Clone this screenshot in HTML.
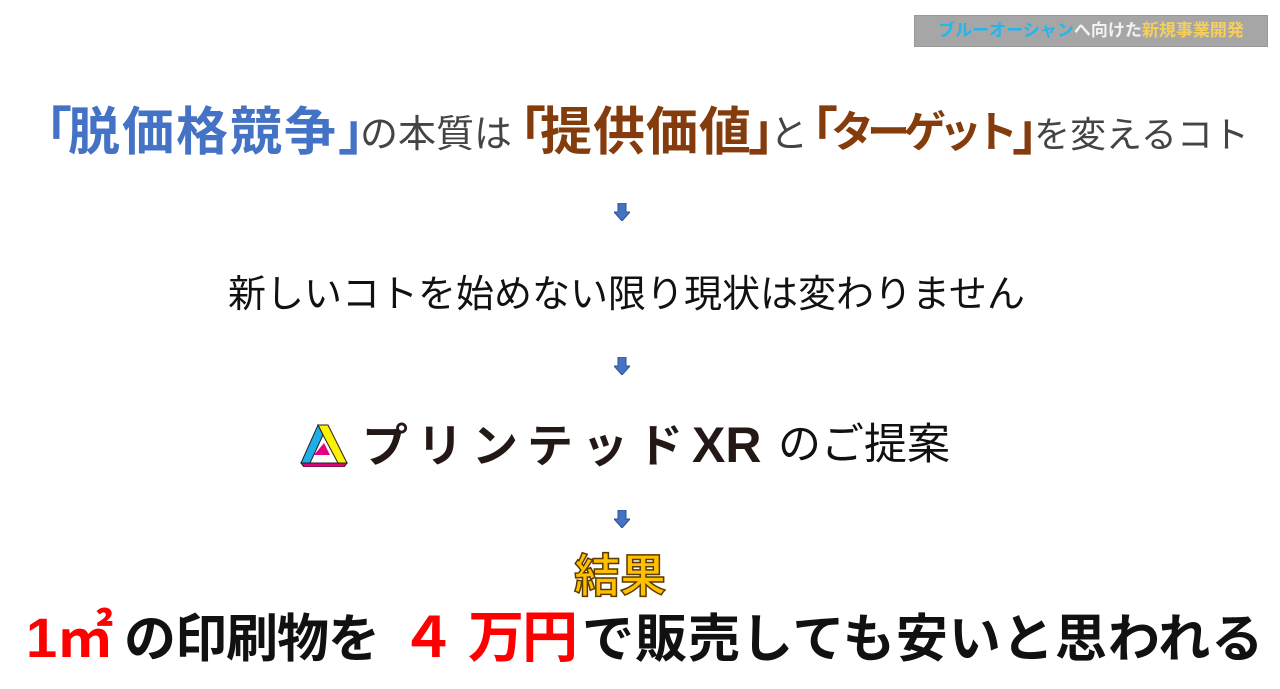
<!DOCTYPE html>
<html><head><meta charset="utf-8"><style>
body{margin:0;width:1280px;height:689px;background:#fff;position:relative;overflow:hidden;font-family:"Liberation Sans","Noto Sans CJK JP",sans-serif;}
.a{position:absolute;white-space:nowrap;line-height:1;}
.b{color:#4472c4;font-weight:bold;font-size:52px;top:107px;}
.r{color:#843c0c;font-weight:bold;font-size:52px;top:107px;}
.g{color:#444;font-size:38px;top:116px;}
.k{font-weight:bold;font-size:52px;color:#111;top:614px;}
.red{color:#ff0000;font-weight:bold;font-size:56px;top:610px;}
.arr{position:absolute;left:614px;width:16px;height:18px;}
</style></head><body>
<div class="a" style="left:914px;top:15px;width:352px;height:30px;background:#a6a6a6;border:1px solid #999;font-size:17px;font-weight:bold;line-height:30px;text-align:center;">
<span style="color:#22b6f0">ブルーオーシャン</span><span style="color:#f2f2f2">へ向けた</span><span style="color:#f5cf5a">新規事業開発</span></div>

<div class="a b" style="left:20px">「</div>
<div class="a b" style="left:68px;letter-spacing:2px">脱価格競争</div>
<div class="a b" style="left:338px">」</div>
<div class="a g" style="left:360px">の本質は</div>
<div class="a r" style="left:494px">「</div>
<div class="a r" style="left:540px;letter-spacing:1px">提供価値</div>
<div class="a r" style="left:748px">」</div>
<div class="a g" style="left:770px">と</div>
<div class="a r" style="left:786px">「</div>
<div class="a r" style="left:831px;font-size:43px;top:112px;letter-spacing:-7px">ターゲット</div>
<div class="a r" style="left:1012px">」</div>
<div class="a g" style="left:1034px;font-size:36px;top:117px">を変えるコト</div>

<svg class="arr" style="top:203px" viewBox="0 0 16 18"><path d="M4 0H12V9H16L8 18L0 9H4Z" fill="#4472c4" stroke="#2f528f" stroke-width="1"/></svg>
<svg class="arr" style="top:357px" viewBox="0 0 16 18"><path d="M4 0H12V9H16L8 18L0 9H4Z" fill="#4472c4" stroke="#2f528f" stroke-width="1"/></svg>
<svg class="arr" style="top:510px" viewBox="0 0 16 18"><path d="M4 0H12V9H16L8 18L0 9H4Z" fill="#4472c4" stroke="#2f528f" stroke-width="1"/></svg>

<div class="a" style="left:228px;top:276px;font-size:38px;color:#111;">新しいコトを始めない限り現状は変わりません</div>

<svg class="a" style="left:300px;top:423px" width="48" height="44" viewBox="0 0 48 44">
<polygon points="18,2 28,2 47,40 38,40 23,12" fill="#fff200" stroke="#222" stroke-width="1"/>
<polygon points="18,2 23,12 10,40 1,40" fill="#1eaee8" stroke="#222" stroke-width="1"/>
<polygon points="1,40 10,40 38,40 47,40 44,44 4,44" fill="#e5007f" stroke="#222" stroke-width="1"/>
<polygon points="14,32 24,20 30,32" fill="#e5007f"/>
</svg>
<div class="a" style="left:362px;top:420px;font-size:46px;font-weight:bold;color:#231815;letter-spacing:9px;">プリンテッド<span style="letter-spacing:0;font-size:50px">XR</span></div>
<div class="a" style="left:778px;top:424px;font-size:43px;color:#111;">のご提案</div>

<div class="a" style="left:574px;top:553px;font-size:46px;font-weight:bold;color:#ffc000;-webkit-text-stroke:1.5px #5a3a00;">結果</div>

<div class="a red" style="left:26px">1㎡</div>
<div class="a k" style="left:124px;letter-spacing:-1px">の印刷物を</div>
<div class="a red" style="left:400px">４</div>
<div class="a red" style="left:468px;letter-spacing:-2px">万円</div>
<div class="a k" style="left:582px;letter-spacing:1px">で販売しても安いと思われる</div>
</body></html>
